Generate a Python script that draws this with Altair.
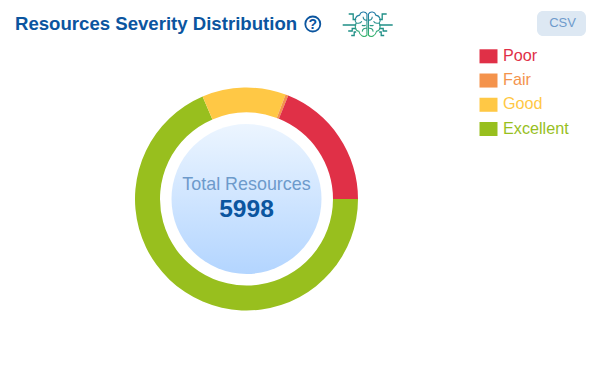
import math
import altair as alt
import pandas as pd

title = "Resources Severity Distribution"
center_label = "Total Resources"
total = 5998
legend_order = ["Poor", "Fair", "Good", "Excellent"]
legend_colors = ["#e03047", "#f4934c", "#ffc845", "#98bf1e"]
draw_order = ["Excellent", "Good", "Fair", "Poor"]
draw_values = [4112, 728, 25, 1133]

color = alt.Color("cat:N", legend=None, scale=alt.Scale(domain=legend_order, range=legend_colors))
slices = pd.DataFrame({"cat": draw_order, "value": draw_values, "i": range(4)})
legend_df = pd.DataFrame({"cat": legend_order})
CX, CY = 238.5, 191

donut = alt.Chart(slices).mark_arc(outerRadius=111.5, innerRadius=86.5).encode(
    theta=alt.Theta("value:Q", stack=True,
                    scale=alt.Scale(domain=[0, total], range=[math.pi / 2, math.pi / 2 + 2 * math.pi])),
    order=alt.Order("i:Q"), color=color, x=alt.value(CX), y=alt.value(CY))

grad = alt.Gradient(gradient="linear", x1=0, y1=0, x2=0, y2=1,
                    stops=[alt.GradientStop(offset=0, color="#ecf5ff"),
                           alt.GradientStop(offset=1, color="#b3d5ff")])
hub = alt.Chart(pd.DataFrame({"t": [center_label]})).mark_point(
    shape="circle", size=22500, filled=True, fill=grad, opacity=1, strokeWidth=0
).encode(x=alt.value(CX), y=alt.value(CY))


def label(text, x, y, size, col, bold=False, align="left"):
    return alt.Chart(pd.DataFrame({"t": [text]})).mark_text(
        font="Liberation Sans", fontSize=size, fontWeight="bold" if bold else "normal",
        color=col, align=align, baseline="alphabetic"
    ).encode(text="t:N", x=alt.value(x), y=alt.value(y))


legend_y = alt.Y("cat:N", axis=None, sort=legend_order,
                 scale=alt.Scale(type="point", domain=legend_order, range=[48.3, 121], padding=0))
swatches = alt.Chart(legend_df).mark_point(
    shape="M-1,-0.78H1V0.78H-1Z", size=324, filled=True, opacity=1, strokeWidth=0
).encode(x=alt.value(480.5), y=legend_y, color=color)
legend_text = alt.Chart(legend_df).mark_text(
    font="Liberation Sans", fontSize=16.2, align="left", baseline="middle", dy=-0.5
).encode(x=alt.value(495), y=legend_y, text="cat:N", color=color)

csv_btn = alt.Chart(pd.DataFrame({"t": ["CSV"]})).mark_rect(cornerRadius=6, color="#dde8f3").encode(
    x=alt.value(529), x2=alt.value(578), y=alt.value(3), y2=alt.value(28))

help_ring = alt.Chart(pd.DataFrame({"t": ["?"]})).mark_point(
    shape="circle", size=225, filled=False, color="#0b559f", strokeWidth=1.8, opacity=1
).encode(x=alt.value(304.8), y=alt.value(16))


def lobe(s):
    return (f"M{s*0.06},-0.8C{s*0.2},-1.05 {s*0.55},-1 {s*0.62},-0.72"
            f"C{s*0.95},-0.68 {s*1.05},-0.3 {s*0.88},-0.12"
            f"C{s*1.05},0.1 {s*0.95},0.5 {s*0.68},0.52"
            f"C{s*0.62},0.85 {s*0.25},1.05 {s*0.06},0.82Z"
            f"M{s*0.06},-0.35C{s*0.25},-0.3 {s*0.35},-0.45 {s*0.35},-0.6"
            f"M{s*0.06},0.3C{s*0.25},0.25 {s*0.4},0.35 {s*0.42},0.55"
            f"M{s*0.88},-0.12C{s*0.65},-0.05 {s*0.5},-0.15 {s*0.45},-0.25"
            f"M{s*0.45},0.05C{s*0.35},0.1 {s*0.25},0.1 {s*0.15},0.05")


def traces(s):
    return (f"M{s*0.46},-0.2H{s*0.58}V-0.42H{s*0.76}"
            f"M{s*0.46},0.02H{s*1.0}"
            f"M{s*0.46},0.16H{s*0.62}V0.26H{s*0.78}"
            f"M{s*0.46},0.3H{s*0.54}V0.44H{s*0.66}")


brain_grad = alt.Gradient(gradient="linear", x1=0, y1=0, x2=0, y2=1,
                          stops=[alt.GradientStop(offset=0, color="#1f78a8"),
                                 alt.GradientStop(offset=1, color="#35b36b")])
brain = alt.Chart(pd.DataFrame({"t": ["brain"]})).mark_point(
    shape=lobe(-1) + lobe(1), size=676, filled=False, stroke=brain_grad, strokeWidth=1.1, opacity=1
).encode(x=alt.value(359.7), y=alt.value(16.5))
circuit = alt.Chart(pd.DataFrame({"t": ["circuit"]})).mark_point(
    shape=traces(-1) + traces(1), size=2500, filled=False, color="#1f8f86", strokeWidth=1.3, opacity=1
).encode(x=alt.value(359.7), y=alt.value(16.5))

chart = alt.layer(
    donut, hub,
    label(center_label, CX, 181.5, 17.9, "#6d9acb", align="center"),
    label(str(total), CX, 208.5, 24.6, "#0b559f", bold=True, align="center"),
    label(title, 7, 22, 18.6, "#0b559f", bold=True),
    help_ring, label("?", 304.8, 21, 14, "#0b559f", bold=True, align="center"),
    circuit, brain,
    csv_btn, label("CSV", 554.5, 19, 13, "#6f9bcc", align="center"),
    swatches, legend_text,
).properties(width=578, height=355, background="white", padding=0,
             autosize=alt.AutoSizeParams(type="none")).configure_view(stroke=None)

chart.save("out.html", embed_options={"renderer": "svg", "actions": False})
